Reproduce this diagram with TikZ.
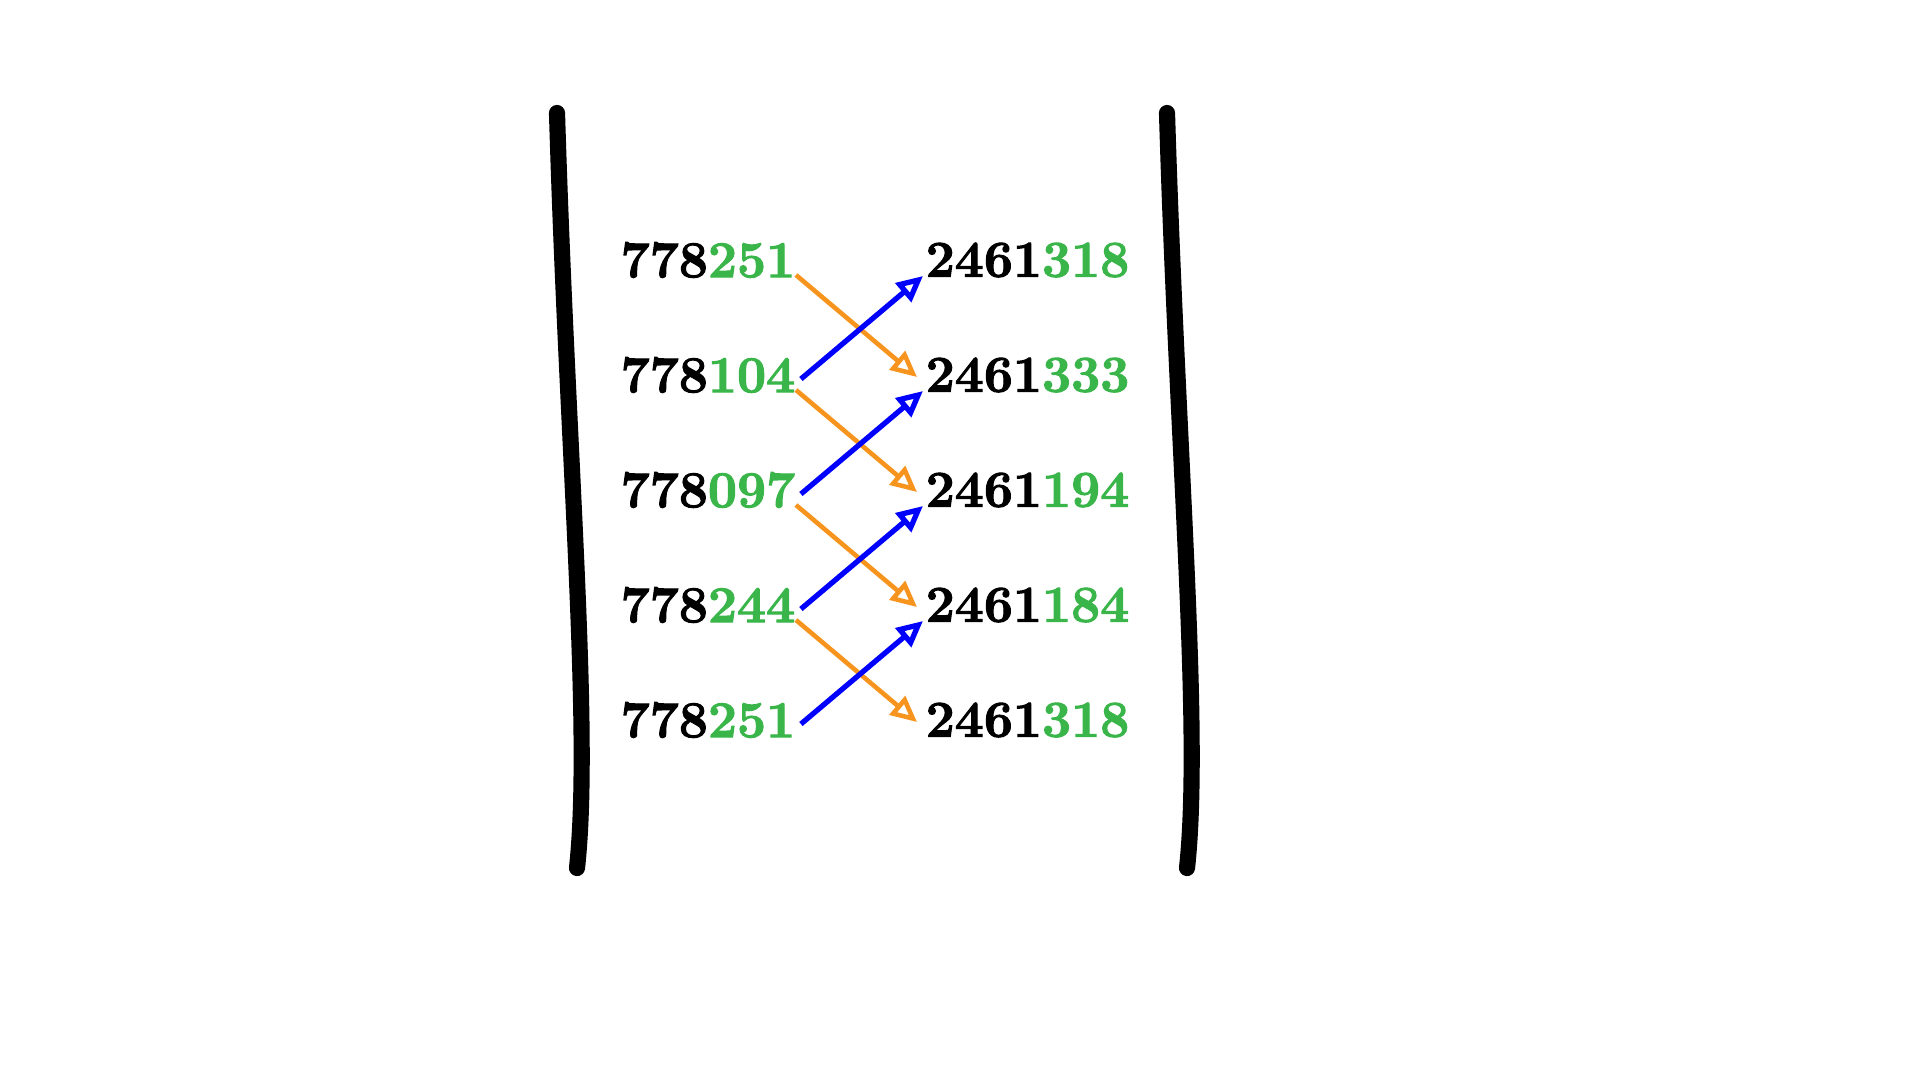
\documentclass[tikz,border=0pt]{standalone}
\usetikzlibrary{arrows.meta}
\definecolor{numgreen}{RGB}{57,181,74}
\definecolor{swaporange}{RGB}{247,148,30}
\newcommand{\heavy}[1]{\special{pdf:literal direct 2 Tr 0.3 w}#1\special{pdf:literal direct 0 Tr}}
\begin{document}
\begin{tikzpicture}[every node/.style={font=\fontsize{14.7}{17}\selectfont\bfseries, inner sep=0pt},
  brack/.style={line width=4.6pt, line cap=round},
  down/.style={swaporange, line width=1.3pt, -{Triangle[open, length=2.6mm, width=2.4mm]}},
  up/.style={blue, line width=1.5pt, -{Triangle[open, length=2.6mm, width=2.4mm]}}]
  \useasboundingbox (0,0) rectangle (19.2,-10.8);
  \draw[brack] (5.57,-1.13) .. controls (5.67,-4.5) and (5.92,-7.3) .. (5.77,-8.68);
  \draw[brack] (11.67,-1.13) .. controls (11.77,-4.5) and (12.02,-7.3) .. (11.87,-8.68);
  \foreach \i/\a/\b in {1/251/318, 2/104/333, 3/097/194, 4/244/184, 5/251/318} {
    \node[anchor=west] (l\i) at (6.20,-1.45-1.15*\i) {\heavy{778\textcolor{numgreen}{\a}}};
    \node[anchor=west] (r\i) at (9.25,-1.45-1.15*\i) {\heavy{2461\textcolor{numgreen}{\b}}};
  }
  \foreach \i/\j in {1/2, 2/3, 3/4, 4/5} {
    \draw[down] ([yshift=-1.5mm]l\i.east) -- ([xshift=-0.8mm,yshift=-0.2mm]r\j.west);
    \draw[up] ([xshift=0.5mm,yshift=-0.4mm]l\j.east) -- ([xshift=-0.2mm,yshift=-1.6mm]r\i.west);
  }
\end{tikzpicture}
\end{document}
